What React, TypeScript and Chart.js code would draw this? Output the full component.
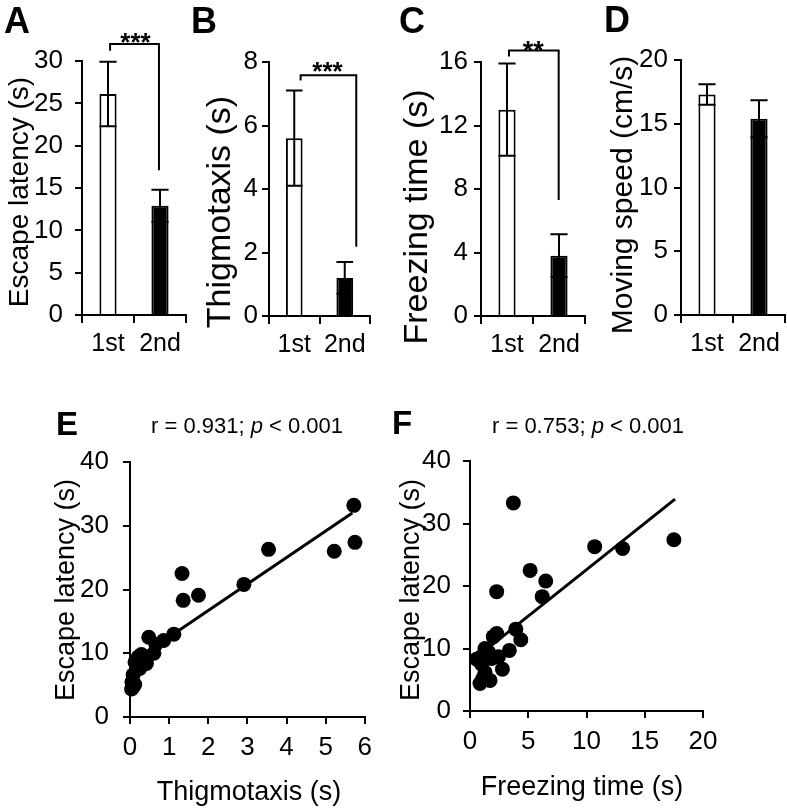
import React, { useEffect, useRef } from 'react';
import { Chart, registerables } from 'chart.js';

Chart.register(...registerables);

const FONT = '"Liberation Sans", Arial, Helvetica, sans-serif';

// ---------------- data ----------------
const groups = ['1st', '2nd'];

const escapeMean = [26.1, 12.9];
const escapeSem = [3.8, 1.9];
const thigmoMean = [5.6, 1.2];
const thigmoSem = [1.5, 0.5];
const freezeMean = [13.0, 3.8];
const freezeSem = [2.9, 1.35];
const speedMean = [17.3, 15.4];
const speedSem = [0.8, 1.45];

// Panel E: thigmotaxis (x) vs escape latency (y)
const thigmoX = [5.72, 5.75, 5.22, 3.54, 2.91, 1.33, 1.36, 1.75, 1.12, 0.86, 0.48, 0.61, 0.66, 0.42, 0.29, 0.21, 0.33, 0.17, 0.25, 0.13, 0.08, 0.05, 0.08, 0.04, 0.12, 0.36];
const latencyE = [33.2, 27.4, 26.0, 26.3, 20.8, 22.5, 18.3, 19.1, 13.0, 12.0, 12.5, 10.0, 11.4, 8.4, 9.8, 9.4, 9.6, 7.9, 7.6, 8.6, 6.6, 5.5, 4.7, 4.4, 5.1, 8.9];
const fitEX = [0.03, 5.68];
const fitEY = [8.5, 32.0];

// Panel F: freezing time (x) vs escape latency (y)
const freezeX = [3.72, 17.5, 10.7, 13.1, 5.16, 6.5, 6.2, 2.29, 3.93, 4.36, 2.29, 2.0, 3.38, 1.29, 2.78, 2.44, 1.72, 0.86, 0.57, 1.29, 1.0, 1.86, 1.43, 1.1, 0.9, 1.6];
const latencyF = [33.3, 27.4, 26.3, 26.0, 22.5, 20.8, 18.3, 19.1, 13.1, 11.4, 12.4, 11.9, 9.7, 10.0, 6.7, 8.7, 4.9, 4.4, 8.3, 6.2, 7.5, 8.4, 8.9, 5.2, 8.6, 9.4];
const fitFX = [0.5, 17.6];
const fitFY = [8.5, 33.9];

// ---------------- helpers ----------------
type Run = { t: string; italic?: boolean };
type TextSpec = { runs: Run[]; x: number; y: number; size: number; bold?: boolean; rotate?: boolean; align?: 'left' | 'center' };
type Box = { left: number; top: number; width: number; height: number };

function drawText(ctx: CanvasRenderingContext2D, s: TextSpec, ox: number, oy: number) {
  ctx.save();
  ctx.fillStyle = '#000';
  const fontOf = (r: Run) => `${r.italic ? 'italic ' : ''}${s.bold ? 'bold ' : ''}${s.size}px ${FONT}`;
  let total = 0;
  for (const r of s.runs) {
    ctx.font = fontOf(r);
    total += ctx.measureText(r.t).width;
  }
  ctx.translate(s.x - ox, s.y - oy);
  if (s.rotate) ctx.rotate(-Math.PI / 2);
  ctx.textBaseline = s.rotate ? 'middle' : 'alphabetic';
  ctx.textAlign = 'left';
  let cx = s.align === 'left' ? 0 : -total / 2;
  for (const r of s.runs) {
    ctx.font = fontOf(r);
    ctx.fillText(r.t, cx, 0);
    cx += ctx.measureText(r.t).width;
  }
  ctx.restore();
}

const T = (t: string, x: number, y: number, size: number, extra: Partial<TextSpec> = {}): TextSpec => ({ runs: [{ t }], x, y, size, ...extra });

type Bracket = { x1: number; x2: number; yTop: number; yLeft: number; yRight: number };

type BarSpec = {
  box: Box; mean: number[]; sem: number[]; yMax: number; yStep: number;
  yAxisW: number; padTop: number; padRight: number; xAxisH: number;
  yTickSize: number; xTickSize: number; yTickPad: number; xTickPad: number;
  bracket?: Bracket; texts: TextSpec[];
};

function buildBar(canvas: HTMLCanvasElement, s: BarSpec) {
  const overlay = {
    id: 'overlay',
    afterDatasetsDraw(chart: any) {
      const ctx = chart.ctx as CanvasRenderingContext2D;
      const ys = chart.scales.y;
      const xs = chart.scales.x;
      const meta = chart.getDatasetMeta(0);
      ctx.save();
      ctx.strokeStyle = '#000';
      ctx.lineWidth = 2;
      ctx.lineCap = 'butt';
      meta.data.forEach((el: any, i: number) => {
        const x = el.x;
        const w = el.width;
        const top = ys.getPixelForValue(s.mean[i] + s.sem[i]);
        const bot = ys.getPixelForValue(s.mean[i] - s.sem[i]);
        ctx.beginPath();
        ctx.moveTo(x, top);
        ctx.lineTo(x, bot);
        ctx.moveTo(x - w / 2, top);
        ctx.lineTo(x + w / 2, top);
        ctx.moveTo(x - w / 2, bot);
        ctx.lineTo(x + w / 2, bot);
        ctx.stroke();
      });
      if (s.bracket) {
        const b = s.bracket;
        const x1 = xs.getPixelForValue(b.x1);
        const x2 = xs.getPixelForValue(b.x2);
        const yt = ys.getPixelForValue(b.yTop);
        ctx.beginPath();
        ctx.moveTo(x1, ys.getPixelForValue(b.yLeft));
        ctx.lineTo(x1, yt);
        ctx.lineTo(x2, yt);
        ctx.lineTo(x2, ys.getPixelForValue(b.yRight));
        ctx.stroke();
      }
      ctx.restore();
    },
    afterDraw(chart: any) {
      const ctx = chart.ctx as CanvasRenderingContext2D;
      s.texts.forEach((t) => drawText(ctx, t, s.box.left, s.box.top));
    },
  };

  return new Chart(canvas, {
    type: 'bar',
    data: {
      labels: groups,
      datasets: [
        {
          data: s.mean,
          backgroundColor: ['#ffffff', '#000000'],
          borderColor: '#000000',
          borderWidth: 2,
          barPercentage: 0.33,
          categoryPercentage: 1,
        },
      ],
    },
    options: {
      responsive: false,
      animation: false,
      devicePixelRatio: 1,
      layout: { padding: { top: s.padTop, right: s.padRight, left: 0, bottom: 0 } },
      plugins: { legend: { display: false }, tooltip: { enabled: false } },
      scales: {
        x: {
          grid: { display: true, drawOnChartArea: false, drawTicks: true, tickLength: 8, color: '#000', lineWidth: 2, offset: true },
          border: { display: true, color: '#000', width: 2 },
          ticks: { color: '#000', font: { family: FONT, size: s.xTickSize }, padding: s.xTickPad, autoSkip: false, maxRotation: 0 },
          afterFit: (sc: any) => { sc.height = s.xAxisH; },
        },
        y: {
          min: 0,
          max: s.yMax,
          grid: { display: true, drawOnChartArea: false, drawTicks: true, tickLength: 7, color: '#000', lineWidth: 2 },
          border: { display: true, color: '#000', width: 2 },
          ticks: { stepSize: s.yStep, color: '#000', font: { family: FONT, size: s.yTickSize }, padding: s.yTickPad },
          afterFit: (sc: any) => { sc.width = s.yAxisW; },
        },
      },
    } as any,
    plugins: [overlay],
  });
}

type ScatterSpec = {
  box: Box; xs: number[]; ys: number[]; fitX: number[]; fitY: number[];
  xMax: number; xStep: number; yMax: number; yStep: number;
  yAxisW: number; padTop: number; padRight: number; xAxisH: number;
  tickSize: number; yTickPad: number; xTickPad: number; texts: TextSpec[];
};

function buildScatter(canvas: HTMLCanvasElement, s: ScatterSpec) {
  const overlay = {
    id: 'overlay',
    afterDraw(chart: any) {
      const ctx = chart.ctx as CanvasRenderingContext2D;
      s.texts.forEach((t) => drawText(ctx, t, s.box.left, s.box.top));
    },
  };
  return new Chart(canvas, {
    type: 'scatter',
    data: {
      datasets: [
        {
          data: s.xs.map((x, i) => ({ x, y: s.ys[i] })),
          backgroundColor: '#000',
          borderWidth: 0,
          pointRadius: 7.5,
          clip: false,
        },
        {
          type: 'line',
          data: s.fitX.map((x, i) => ({ x, y: s.fitY[i] })),
          borderColor: '#000',
          borderWidth: 3,
          pointRadius: 0,
          fill: false,
          clip: false,
        },
      ],
    },
    options: {
      responsive: false,
      animation: false,
      devicePixelRatio: 1,
      layout: { padding: { top: s.padTop, right: s.padRight, left: 0, bottom: 0 } },
      plugins: { legend: { display: false }, tooltip: { enabled: false } },
      scales: {
        x: {
          type: 'linear',
          min: 0,
          max: s.xMax,
          grid: { display: true, drawOnChartArea: false, drawTicks: true, tickLength: 7, color: '#000', lineWidth: 2 },
          border: { display: true, color: '#000', width: 2 },
          ticks: { stepSize: s.xStep, color: '#000', font: { family: FONT, size: s.tickSize }, padding: s.xTickPad, maxRotation: 0 },
          afterFit: (sc: any) => { sc.height = s.xAxisH; },
        },
        y: {
          min: 0,
          max: s.yMax,
          grid: { display: true, drawOnChartArea: false, drawTicks: true, tickLength: 7, color: '#000', lineWidth: 2 },
          border: { display: true, color: '#000', width: 2 },
          ticks: { stepSize: s.yStep, color: '#000', font: { family: FONT, size: s.tickSize }, padding: s.yTickPad },
          afterFit: (sc: any) => { sc.width = s.yAxisW; },
        },
      },
    } as any,
    plugins: [overlay],
  });
}

function ChartCanvas({ box, build }: { box: Box; build: (c: HTMLCanvasElement) => Chart }) {
  const ref = useRef<HTMLCanvasElement>(null);
  useEffect(() => {
    const chart = build(ref.current as HTMLCanvasElement);
    return () => chart.destroy();
  }, []);
  return (
    <canvas
      ref={ref}
      width={box.width}
      height={box.height}
      style={{ position: 'absolute', left: box.left, top: box.top, width: box.width, height: box.height }}
    />
  );
}

// ---------------- panel specs ----------------
const boxA: Box = { left: 0, top: 0, width: 190, height: 360 };
const boxB: Box = { left: 190, top: 0, width: 190, height: 360 };
const boxC: Box = { left: 380, top: 0, width: 215, height: 360 };
const boxD: Box = { left: 595, top: 0, width: 192, height: 360 };
const boxE: Box = { left: 0, top: 380, width: 380, height: 430 };
const boxF: Box = { left: 380, top: 380, width: 407, height: 430 };

const specA: BarSpec = {
  box: boxA, mean: escapeMean, sem: escapeSem, yMax: 30, yStep: 5,
  yAxisW: 82, padTop: 61, padRight: 4, xAxisH: 45,
  yTickSize: 26, xTickSize: 25, yTickPad: 12, xTickPad: 6,
  bracket: { x1: 0.04, x2: 0.98, yTop: 32.0, yLeft: 31.2, yRight: 17.1 },
  texts: [
    T('A', 4, 33, 36, { bold: true, align: 'left' }),
    T('Escape latency (s)', 20, 192, 28, { rotate: true }),
    T('***', 135.5, 51, 26, { bold: true }),
  ],
};

const specB: BarSpec = {
  box: boxB, mean: thigmoMean, sem: thigmoSem, yMax: 8, yStep: 2,
  yAxisW: 79, padTop: 62, padRight: 10, xAxisH: 44,
  yTickSize: 26, xTickSize: 25, yTickPad: 4, xTickPad: 6,
  bracket: { x1: 0.126, x2: 1.228, yTop: 7.58, yLeft: 7.42, yRight: 2.18 },
  texts: [
    T('B', 191, 33, 36, { bold: true, align: 'left' }),
    T('Thigmotaxis (s)', 221, 212, 34, { rotate: true }),
    T('***', 327.5, 80, 26, { bold: true }),
  ],
};

const specC: BarSpec = {
  box: boxC, mean: freezeMean, sem: freezeSem, yMax: 16, yStep: 4,
  yAxisW: 101, padTop: 62, padRight: 10, xAxisH: 44,
  yTickSize: 26, xTickSize: 25, yTickPad: 6, xTickPad: 6,
  bracket: { x1: 0.038, x2: 0.994, yTop: 16.73, yLeft: 16.35, yRight: 7.3 },
  texts: [
    T('C', 399, 33, 36, { bold: true, align: 'left' }),
    T('Freezing time (s)', 418, 217, 34, { rotate: true }),
    T('**', 533.3, 59.5, 27, { bold: true }),
  ],
};

const specD: BarSpec = {
  box: boxD, mean: speedMean, sem: speedSem, yMax: 20, yStep: 5,
  yAxisW: 86, padTop: 60, padRight: 2, xAxisH: 45,
  yTickSize: 26, xTickSize: 25, yTickPad: 6, xTickPad: 6,
  texts: [
    T('D', 604, 32, 36, { bold: true, align: 'left' }),
    T('Moving speed (cm/s)', 624, 195, 30, { rotate: true }),
  ],
};

const specE: ScatterSpec = {
  box: boxE, xs: thigmoX, ys: latencyE, fitX: fitEX, fitY: fitEY,
  xMax: 6, xStep: 1, yMax: 40, yStep: 10,
  yAxisW: 130, padTop: 82, padRight: 12, xAxisH: 93,
  tickSize: 26, yTickPad: 14, xTickPad: 8,
  texts: [
    T('E', 56, 435, 33, { bold: true, align: 'left' }),
    { runs: [{ t: 'r = 0.931; ' }, { t: 'p', italic: true }, { t: ' < 0.001' }], x: 247, y: 433, size: 22 },
    T('Escape latency (s)', 67, 590, 27, { rotate: true }),
    T('Thigmotaxis (s)', 249, 800, 27),
  ],
};

const specF: ScatterSpec = {
  box: boxF, xs: freezeX, ys: latencyF, fitX: fitFX, fitY: fitFY,
  xMax: 20, xStep: 5, yMax: 40, yStep: 10,
  yAxisW: 90, padTop: 81, padRight: 84, xAxisH: 99,
  tickSize: 26, yTickPad: 12, xTickPad: 8,
  texts: [
    T('F', 392, 434, 33, { bold: true, align: 'left' }),
    { runs: [{ t: 'r = 0.753; ' }, { t: 'p', italic: true }, { t: ' < 0.001' }], x: 588, y: 433, size: 22 },
    T('Escape latency (s)', 412, 590, 27, { rotate: true }),
    T('Freezing time (s)', 582, 795, 27),
  ],
};

export default function App() {
  return (
    <div style={{ position: 'absolute', left: 0, top: 0, width: 787, height: 810, background: '#fff', overflow: 'hidden' }}>
      <ChartCanvas box={boxA} build={(c) => buildBar(c, specA)} />
      <ChartCanvas box={boxB} build={(c) => buildBar(c, specB)} />
      <ChartCanvas box={boxC} build={(c) => buildBar(c, specC)} />
      <ChartCanvas box={boxD} build={(c) => buildBar(c, specD)} />
      <ChartCanvas box={boxE} build={(c) => buildScatter(c, specE)} />
      <ChartCanvas box={boxF} build={(c) => buildScatter(c, specF)} />
    </div>
  );
}
